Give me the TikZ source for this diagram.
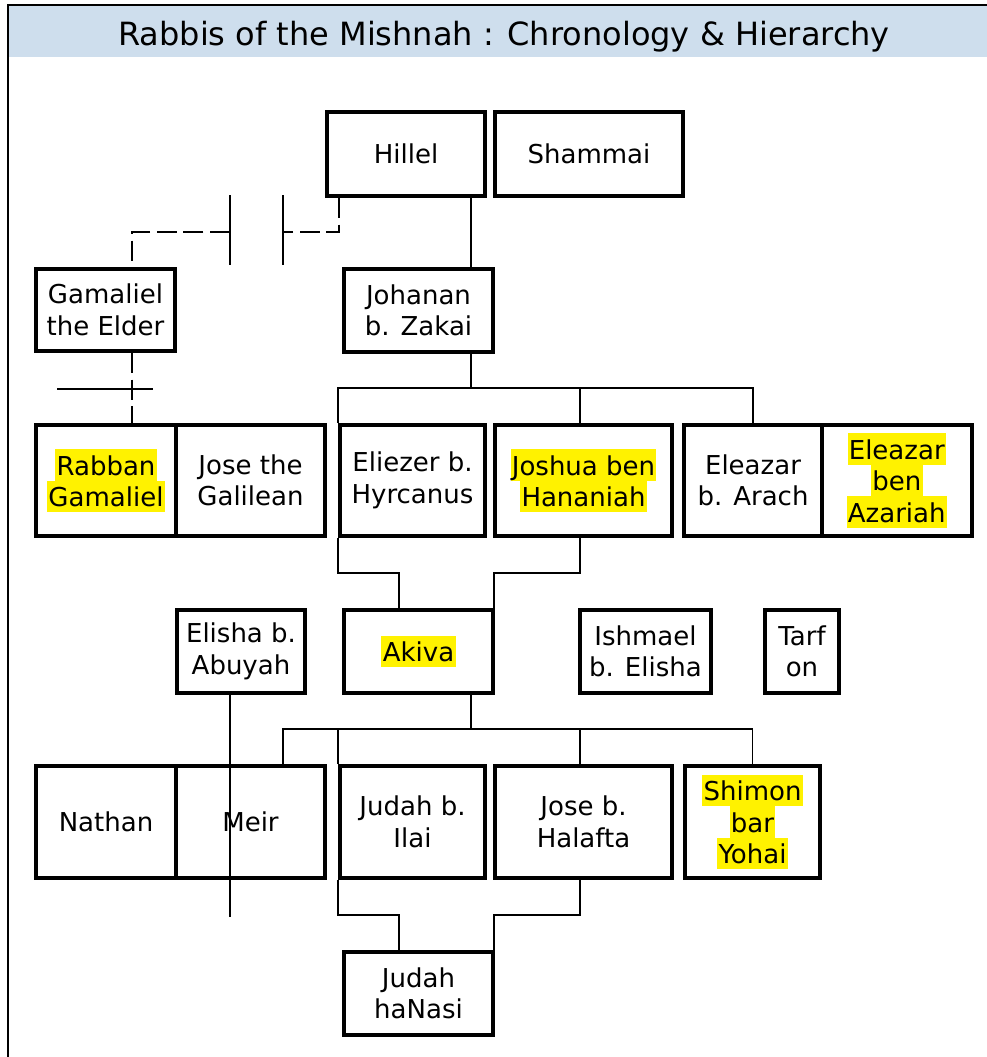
\documentclass[tikz,border=0pt]{standalone}
\usepackage{fontspec}
\setmainfont{DejaVu Sans}
\definecolor{titleblue}{RGB}{206,222,237}
\newcommand\hilite[1]{{\setlength{\fboxsep}{0pt}\colorbox{yellow}{\rule[-4.1pt]{0pt}{23.6pt}\kern1pt#1\kern1pt}}}

\begin{document}
\begin{tikzpicture}
      [x=0.75pt, y=-0.75pt,
       rabbi/.style 2 args={draw, line width=3pt, align=center, inner sep=0pt,
         font=\fontsize{19.5pt}{23.6pt}\selectfont,
         minimum width=#1*0.75pt, minimum height=#2*0.75pt},
       link/.style={line width=1.3pt},
       broken/.style={line width=1.3pt, dash pattern=on 15pt off 5pt}]
      \useasboundingbox (0,0) rectangle (987,1057);
      \fill[titleblue] (9,6) rectangle (987,57);
      \draw[line width=1.5pt] (8,1057) -- (8,5) -- (987,5);
      \node [anchor=base, font=\fontsize{24pt}{28pt}\selectfont] (title) at (504,45)
        {Rabbis of the Mishnah : Chronology \& Hierarchy};

      \node [rabbi={158}{84}] (hillel) at (406,154) {Hillel};
      \node [rabbi={188}{84}] (shammai) at (589,154) {Shammai};
      \node [rabbi={139}{82}] (gamaliel) at (105.5,310) {Gamaliel\\the Elder};
      \node [rabbi={149}{83}] (johanan) at (418.5,310.5) {Johanan\\b. Zakai};

      \node [rabbi={140}{111}] (rabban) at (106,480.5) {\hilite{Rabban}\\\hilite{Gamaliel}};
      \node [rabbi={149}{111}] (jose) at (250.5,480.5) {Jose the\\Galilean};
      \node [rabbi={145}{111}] (eliezer) at (412.5,480.5) {Eliezer b.\\Hyrcanus};
      \node [rabbi={177}{111}] (joshua) at (583.5,480.5) {\hilite{Joshua ben}\\\hilite{Hananiah}};
      \node [rabbi={137.5}{111}] (arach) at (753,480.5) {Eleazar\\b. Arach};
      \node [rabbi={149.5}{111}] (azariah) at (896.75,480.5) {\hilite{Eleazar}\\\hilite{ben}\\\hilite{Azariah}};

      \node [rabbi={128}{83}] (elisha) at (241,651.5) {Elisha b.\\Abuyah};
      \node [rabbi={149}{83}] (akiva) at (418.5,651.5) {\hilite{Akiva}};
      \node [rabbi={131}{83}] (ishmael) at (645.5,651.5) {Ishmael\\b. Elisha};
      \node [rabbi={74}{83}] (tarfon) at (802,651.5) {Tarf\\on};

      \node [rabbi={140}{112}] (nathan) at (106,822) {Nathan};
      \node [rabbi={149}{112}] (meir) at (250.5,822) {Meir};
      \node [rabbi={145}{112}] (judah) at (412.5,822) {Judah b.\\Ilai};
      \node [rabbi={177}{112}] (halafta) at (583.5,822) {Jose b.\\Halafta};
      \node [rabbi={135}{112}] (shimon) at (752.5,822) {\hilite{Shimon}\\\hilite{bar}\\\hilite{Yohai}};

      \node [rabbi={149}{83}] (hanasi) at (418.5,993.5) {Judah\\haNasi};

      \coordinate (stem) at (471,0);
      \coordinate (colB) at (580,0);
      \coordinate (bus1) at (471,388);
      \coordinate (bus2) at (471,729);
      \coordinate (akL) at (399,573);
      \coordinate (akR) at (494,573);
      \coordinate (naL) at (399,915);
      \coordinate (naR) at (494,915);
      \coordinate (meirDrop) at (283,0);
      \coordinate (elishaEnd) at (230,917);
      \coordinate (hilCol) at (339,0);
      \coordinate (gamCol) at (132,0);
      \coordinate (brkR) at (283,232);
      \coordinate (brkL) at (230,232);
      \coordinate (tick) at (132,389);

      \draw [link] (hillel.south -| stem) -- (johanan.north -| stem);
      \draw [link] (johanan.south -| stem) -- (bus1);
      \draw [link] (eliezer.north west) |- (bus1) -| (arach.north);
      \draw [link] (joshua.north -| colB) -- (colB |- bus1);
      \draw [link] (eliezer.south west) |- (akL) -- (akiva.north -| akL);
      \draw [link] (joshua.south -| colB) |- (akR) -- (akiva.north -| akR);

      \draw [link] (akiva.south -| stem) -- (bus2);
      \draw [link] (meir.north -| meirDrop) |- (bus2) -| (shimon.north);
      \draw [link] (judah.north west) -- (judah.north west |- bus2);
      \draw [link] (halafta.north -| colB) -- (colB |- bus2);
      \draw [link] (judah.south west) |- (naL) -- (hanasi.north -| naL);
      \draw [link] (halafta.south -| colB) |- (naR) -- (hanasi.north -| naR);
      \draw [link] (elisha.south -| elishaEnd) -- (elishaEnd);

      \draw [broken] (hillel.south -| hilCol) |- (brkR);
      \draw [broken] (brkL) -| (gamaliel.north -| gamCol);
      \draw [link] (brkR) ++(0,-37) -- ++(0,70);
      \draw [link] (brkL) ++(0,-37) -- ++(0,70);
      \draw [broken] (gamaliel.south -| gamCol) -- (rabban.north -| gamCol);
      \draw [link] (tick) ++(-75,0) -- ++(96,0);
    \end{tikzpicture}
\end{document}
